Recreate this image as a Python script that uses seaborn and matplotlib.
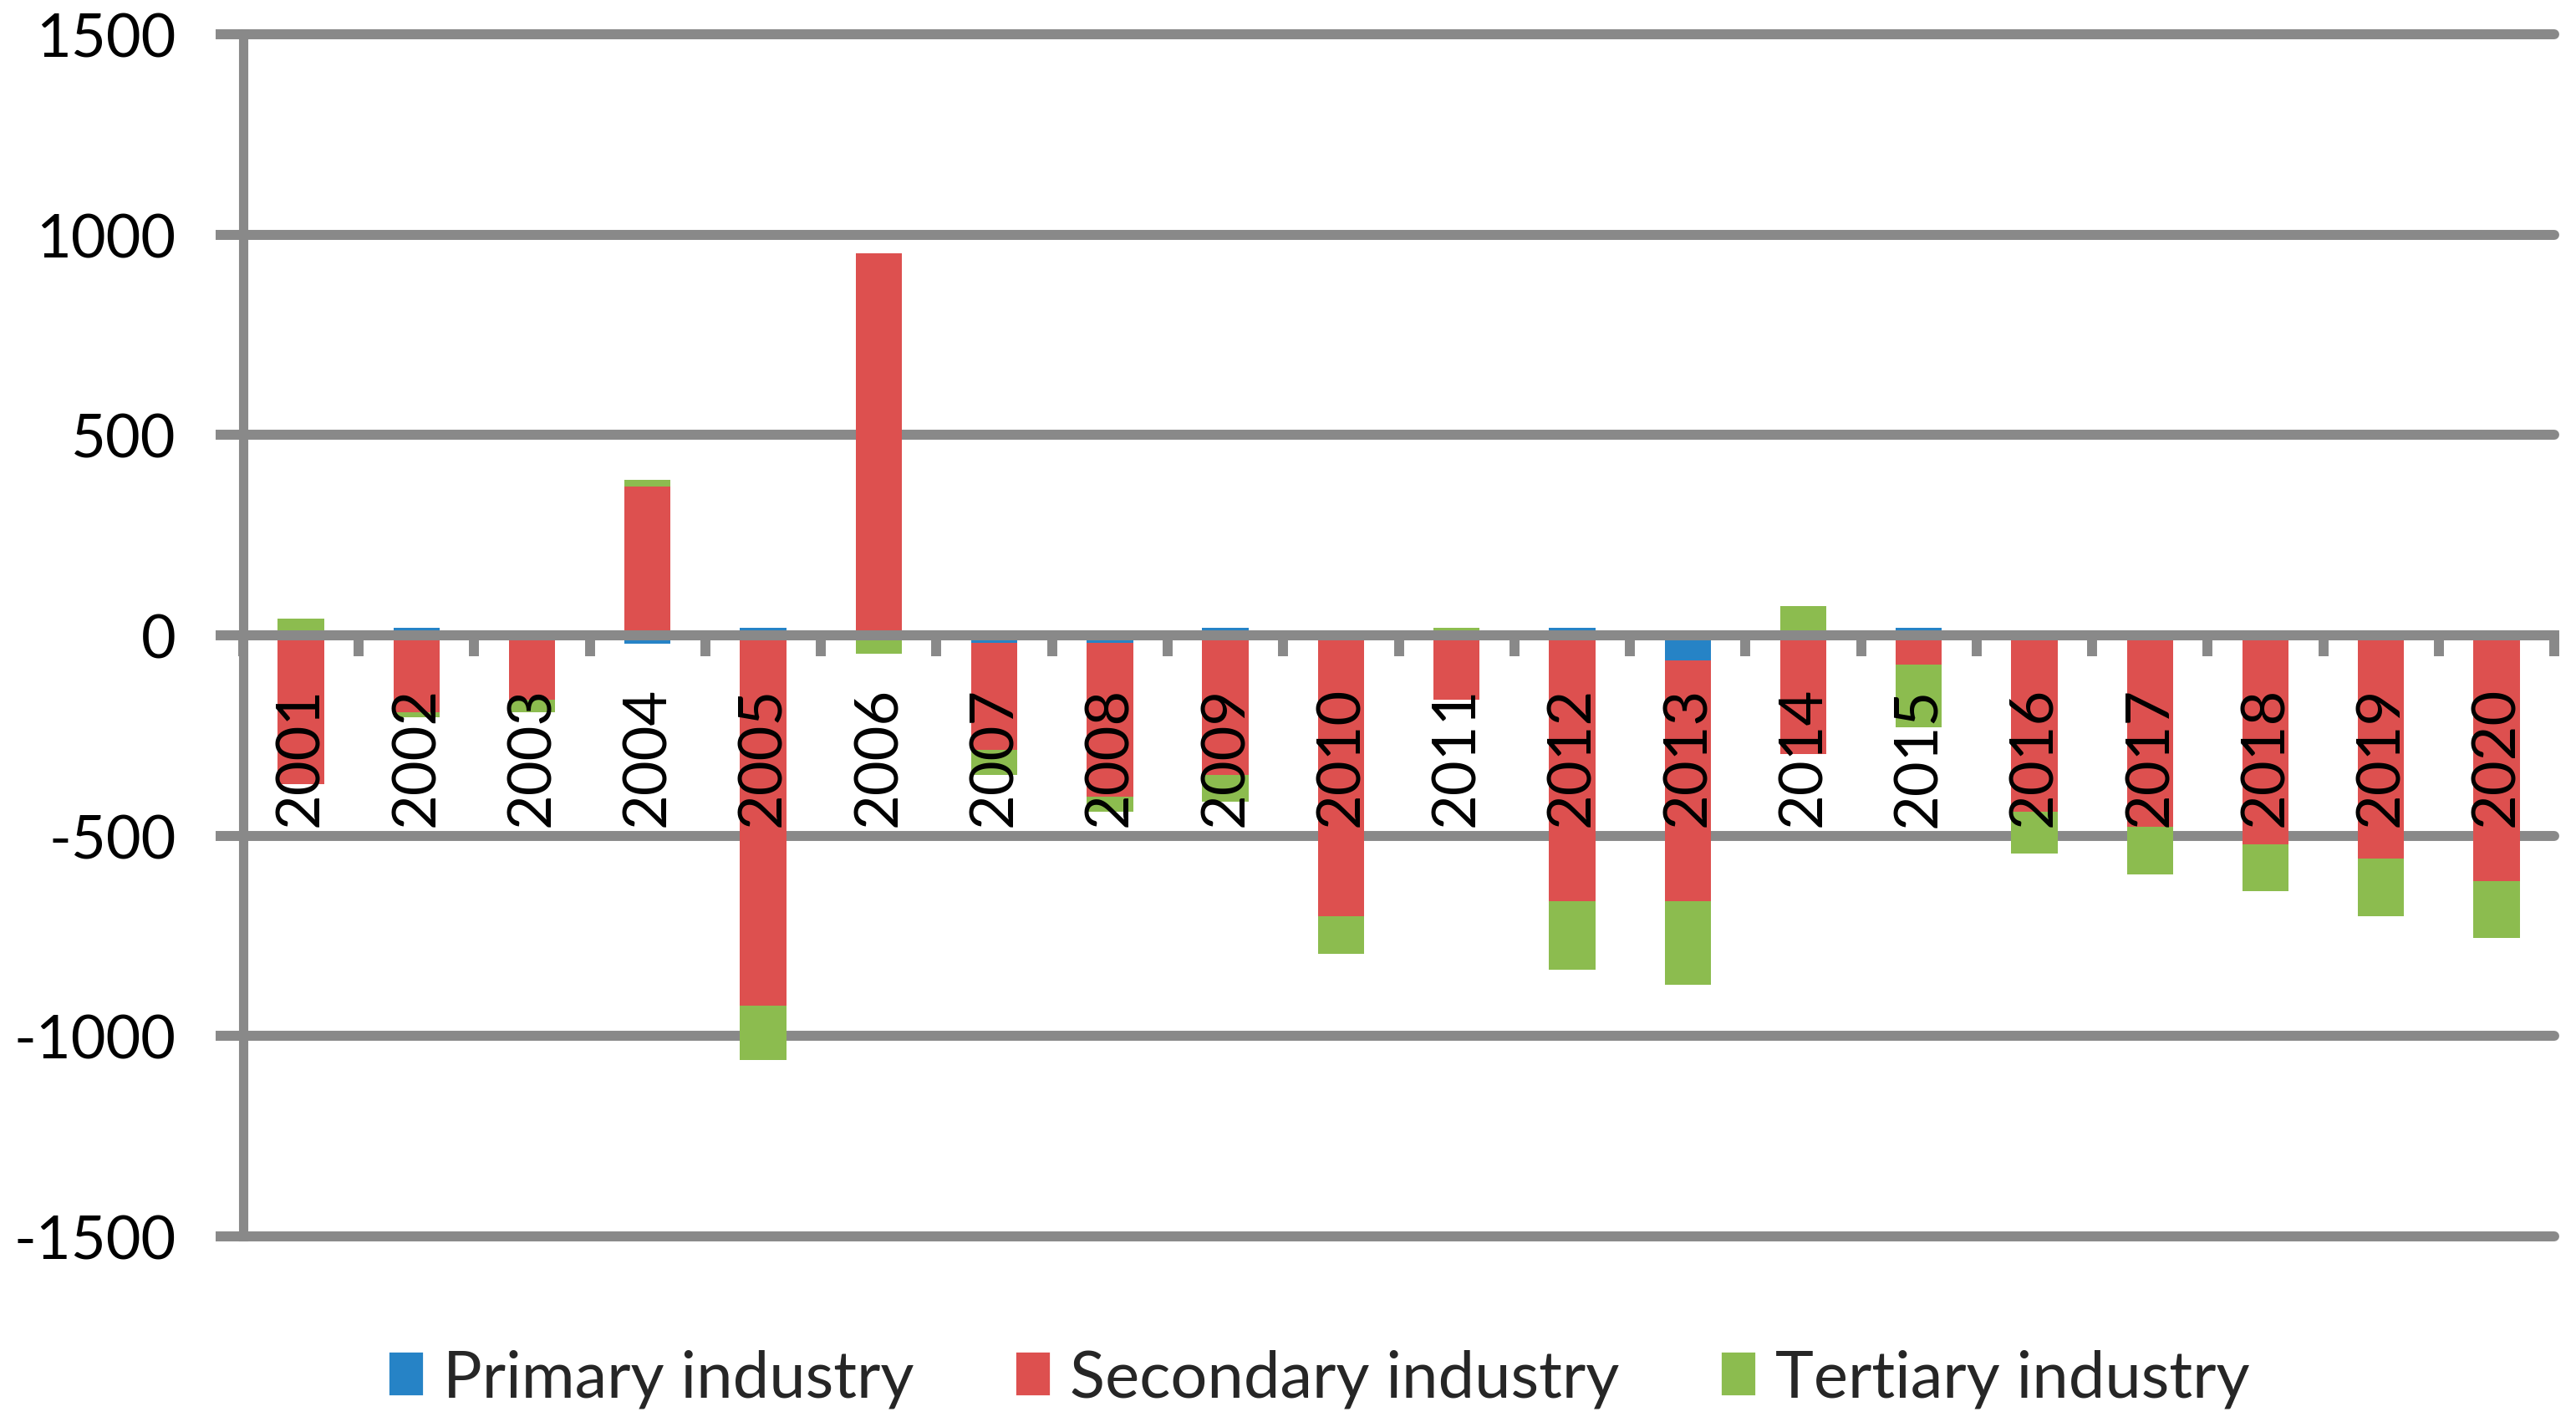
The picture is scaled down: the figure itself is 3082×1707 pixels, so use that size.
import numpy as np
import pandas as pd
import matplotlib.pyplot as plt
import seaborn as sns
from matplotlib.patches import Patch

# Values
years = [str(y) for y in range(2001, 2021)]
primary = [-3, 18, -3, -20, 18, -3, -18, -18, 18, -3,
           -3, 18, -63, -3, 18, -3, -3, -3, -3, -3]
secondary = [-369, -191, -158, 372, -924, 953, -267, -384, -348, -699,
             -158, -663, -600, -294, -74, -438, -475, -518, -555, -610]
tertiary = [42, -13, -30, 17, -135, -42, -63, -38, -67, -92,
            18, -172, -210, 72, -156, -104, -118, -117, -143, -142]

series_names = ['Primary industry', 'Secondary industry', 'Tertiary industry']
series_colors = ['#2683C6', '#DD504F', '#8CBC4F']
yticks = [-1500, -1000, -500, 0, 500, 1000, 1500]

grid_gray = '#898989'

sns.set_theme(style='white')
plt.rcParams['font.family'] = ['Lato', 'DejaVu Sans']
plt.rcParams['axes.unicode_minus'] = False

df = pd.DataFrame({'year': years,
                   series_names[0]: primary,
                   series_names[1]: secondary,
                   series_names[2]: tertiary})

fig = plt.figure(figsize=(15.41, 8.54), dpi=200)
ax = fig.add_axes([0.0944, 0.1335, 0.8972, 0.8419])

# Stacked bars: positives stack upward, negatives downward
pos_base = np.zeros(len(years))
neg_base = np.zeros(len(years))
for name, color in zip(series_names, series_colors):
    vals = df[name].to_numpy(dtype=float)
    bottom = np.where(vals >= 0, pos_base, neg_base)
    sns.barplot(data=df, x='year', y=name, color=color, width=0.4,
                saturation=1, errorbar=None, bottom=bottom, ax=ax,
                zorder=1, linewidth=0)
    pos_base += np.clip(vals, 0, None)
    neg_base += np.clip(vals, None, 0)

ax.set_xlabel('')
ax.set_ylabel('')
ax.set_xlim(-0.5, len(years) - 0.5)
ax.set_ylim(-1500, 1500)
ax.set_yticks(yticks)

# Grid and axes styling
ax.yaxis.grid(True, color=grid_gray, linewidth=4.3)
ax.xaxis.grid(False)
ax.set_axisbelow(True)
ax.xaxis.set_zorder(3)

for side in ['top', 'right']:
    ax.spines[side].set_visible(False)
ax.spines['left'].set_color(grid_gray)
ax.spines['left'].set_linewidth(4.0)
ax.spines['bottom'].set_color(grid_gray)
ax.spines['bottom'].set_linewidth(4.3)
ax.spines['bottom'].set_position(('data', 0))

ax.set_xticks(range(len(years)))
ax.set_xticklabels(years, rotation=90)
ax.set_xticks(np.arange(-0.5, len(years), 1), minor=True)
ax.tick_params(axis='x', which='major', length=0, pad=22, labelsize=26,
               labelcolor='black', bottom=True)
ax.tick_params(axis='x', which='minor', length=9, width=4.3,
               color=grid_gray, direction='out', bottom=True)
ax.tick_params(axis='y', which='major', length=12, width=4.3,
               color=grid_gray, direction='out', left=True, pad=17,
               labelsize=26, labelcolor='black')

for gl in ax.get_ygridlines():
    gl.set_clip_on(False)

handles = [Patch(facecolor=c, label=n) for n, c in zip(series_names, series_colors)]
fig.legend(handles=handles, loc='center', bbox_to_anchor=(0.512, 0.034),
           ncol=3, frameon=False, fontsize=28, handlelength=0.55,
           handleheight=0.7, handletextpad=0.3, columnspacing=1.55)

fig.savefig('out.png', dpi=200)
